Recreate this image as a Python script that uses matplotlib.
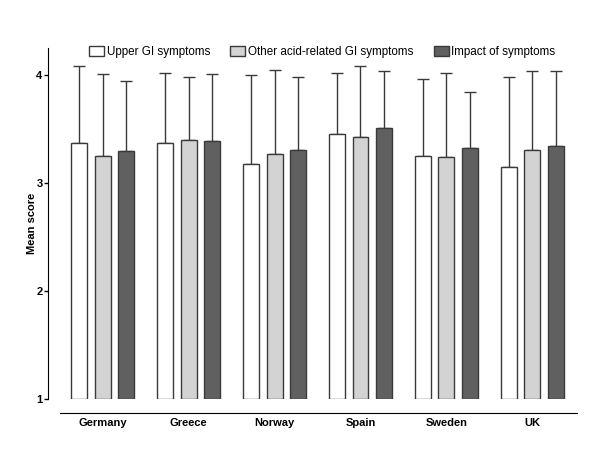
import numpy as np
import matplotlib
matplotlib.use("Agg")
import matplotlib.pyplot as plt

plt.rcParams['font.family'] = ['Liberation Sans', 'DejaVu Sans']

countries = ['Germany', 'Greece', 'Norway', 'Spain', 'Sweden', 'UK']
series_names = ['Upper GI symptoms', 'Other acid-related GI symptoms', 'Impact of symptoms']

upper_gi = [3.37, 3.37, 3.18, 3.45, 3.25, 3.15]
other_acid = [3.25, 3.40, 3.27, 3.43, 3.24, 3.31]
impact = [3.30, 3.39, 3.31, 3.51, 3.32, 3.34]

upper_gi_sd = [0.71, 0.65, 0.82, 0.57, 0.71, 0.83]
other_acid_sd = [0.76, 0.58, 0.78, 0.65, 0.78, 0.73]
impact_sd = [0.64, 0.62, 0.67, 0.53, 0.52, 0.70]

fills = ['white', '#d3d3d3', '#606060']

fig = plt.figure(figsize=(6, 4.5), dpi=100)
ax = fig.add_axes([0.08, 0.1133, 0.882, 0.78])

# spines first: set_position resets the tick labels
ax.spines['top'].set_visible(False)
ax.spines['right'].set_visible(False)
ax.spines['bottom'].set_position(('outward', 10))
ax.spines['bottom'].set_bounds(-0.5, 5.52)
ax.spines['left'].set_bounds(1, 4.25)

x = np.arange(len(countries))
offsets = [-0.273, 0.0, 0.273]
width = 0.186

for means, sds, off, fc, name in zip([upper_gi, other_acid, impact],
                                     [upper_gi_sd, other_acid_sd, impact_sd],
                                     offsets, fills, series_names):
    heights = np.array(means) - 1
    ax.bar(x + off, heights, width, bottom=1, color=fc, edgecolor='#3a3a3a',
           linewidth=1.0, label=name, zorder=2)
    ax.errorbar(x + off, means, yerr=[np.zeros(len(sds)), sds], fmt='none',
                ecolor='#3a3a3a', elinewidth=1.0, capsize=4, capthick=1.0, zorder=1)

ax.set_xlim(-0.634, 5.52)
ax.set_ylim(1, 4.25)
ax.set_yticks([1, 2, 3, 4])
ax.set_yticklabels(['1', '2', '3', '4'], fontsize=8, fontweight='bold')
ax.set_xticks(x)
ax.set_xticklabels(countries, fontsize=8, fontweight='bold')
ax.tick_params(axis='x', length=0, pad=4)
ax.tick_params(axis='y', length=3, width=1, pad=1)

ax.set_ylabel('Mean score', fontsize=8, fontweight='bold')
ax.yaxis.set_label_coords(-0.021, 0.5)

ax.legend(loc='upper center', bbox_to_anchor=(0.518, 1.035), ncol=3, frameon=False,
          fontsize=8.4, handlelength=1.3, handleheight=0.9, handletextpad=0.2,
          columnspacing=1.75)

fig.savefig('out.png', dpi=100)
